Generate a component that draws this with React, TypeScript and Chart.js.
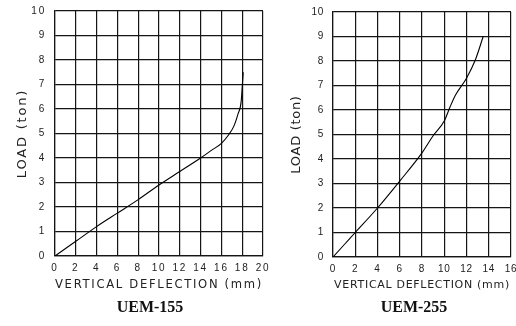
import React, { useEffect, useRef } from "react";
import { Chart, registerables } from "chart.js";

Chart.register(...registerables);

// ---- data ----
const xAxisTitle = "VERTICAL DEFLECTION (mm)";
const yAxisTitle = "LOAD (ton)";
const leftName = "UEM-155";
const rightName = "UEM-255";

const leftDeflection = [0, 2, 4, 6, 8, 10, 12, 14, 15, 16, 16.7, 17.2, 17.6, 17.9, 18.0, 18.1];
const leftLoad = [0, 0.6, 1.2, 1.75, 2.3, 2.9, 3.45, 4.0, 4.3, 4.6, 4.95, 5.3, 5.8, 6.3, 6.9, 7.5];

const rightDeflection = [0, 1, 2, 4, 6, 8, 9, 10, 10.5, 11, 12, 12.8, 13.5];
const rightLoad = [0, 0.5, 1.0, 2.0, 3.1, 4.25, 4.95, 5.55, 6.1, 6.6, 7.3, 8.05, 9.0];

const leftXMax = 20;
const rightXMax = 16;
const yMax = 10;
const xStep = 2;
const yStep = 1;

const spacingPlugin = {
  id: "spacing",
  beforeDraw(chart: any, _args: any, opts: any) {
    (chart.ctx as any).letterSpacing = opts && opts.value ? opts.value : "0px";
  },
};

type PanelProps = {
  xs: number[];
  ys: number[];
  xMax: number;
  left: number;
  width: number;
  yAxisWidth: number;
  padTop: number;
  padRight: number;
  xAxisHeight: number;
  xTitleSize: number;
  xTitlePad: number;
  yTitlePad: number;
  spacing: string;
};

function Panel(p: PanelProps) {
  const ref = useRef<HTMLCanvasElement | null>(null);
  useEffect(() => {
    if (!ref.current) return;
    const points = p.xs.map((x, i) => ({ x, y: p.ys[i] }));
    const gridColor = "#151515";
    const chart = new Chart(ref.current, {
      type: "line",
      data: {
        datasets: [
          {
            data: points,
            borderColor: "#000",
            borderWidth: 1.1,
            pointRadius: 0,
            fill: false,
            cubicInterpolationMode: "monotone",
          } as any,
        ],
      },
      plugins: [spacingPlugin as any],
      options: {
        responsive: false,
        animation: false,
        maintainAspectRatio: false,
        layout: { padding: { top: p.padTop, right: p.padRight, bottom: 0, left: 0 } },
        plugins: {
          legend: { display: false },
          tooltip: { enabled: false },
          spacing: { value: p.spacing },
        } as any,
        scales: {
          x: {
            type: "linear",
            min: 0,
            max: p.xMax,
            ticks: {
              stepSize: xStep,
              padding: 6,
              autoSkip: false,
              maxRotation: 0,
              color: "#222",
              font: { family: "Liberation Sans", size: 10 },
            },
            grid: { color: gridColor, lineWidth: 1.2, drawTicks: false },
            border: { color: gridColor, width: 1.2 },
            title: {
              display: true,
              text: xAxisTitle,
              color: "#222",
              font: { family: "DejaVu Sans", size: p.xTitleSize },
              padding: { top: 0, bottom: p.xTitlePad },
            },
            afterFit(s: any) {
              s.height = p.xAxisHeight;
              s.paddingLeft = 0;
              s.paddingRight = 0;
            },
          },
          y: {
            type: "linear",
            min: 0,
            max: yMax,
            ticks: {
              stepSize: yStep,
              padding: 9,
              color: "#222",
              font: { family: "Liberation Sans", size: 10 },
            },
            grid: { color: gridColor, lineWidth: 1.2, drawTicks: false },
            border: { color: gridColor, width: 1.2 },
            title: {
              display: true,
              text: yAxisTitle,
              color: "#222",
              font: { family: "DejaVu Sans", size: 13 },
              padding: { top: p.yTitlePad, bottom: 0 },
            },
            afterFit(s: any) {
              s.width = p.yAxisWidth;
              s.paddingTop = 0;
              s.paddingBottom = 0;
            },
          },
        },
      } as any,
    });
    return () => chart.destroy();
  }, []);
  return (
    <canvas
      ref={ref}
      width={p.width}
      height={326}
      style={{ position: "absolute", left: p.left, top: 0, width: p.width, height: 326, display: "block" }}
    />
  );
}

const titleStyle: React.CSSProperties = {
  position: "absolute",
  top: 298,
  width: 120,
  height: 18,
  lineHeight: "18px",
  textAlign: "center",
  fontFamily: "Liberation Serif",
  fontWeight: "bold",
  fontSize: 16,
  color: "#111",
};

export default function App() {
  return (
    <div
      style={{
        position: "absolute",
        left: 0,
        top: 0,
        width: 516,
        height: 326,
        background: "#fff",
        overflow: "hidden",
      }}
    >
      <Panel
        xs={leftDeflection}
        ys={leftLoad}
        xMax={leftXMax}
        left={0}
        width={272}
        yAxisWidth={55}
        padTop={11}
        padRight={9}
        xAxisHeight={70}
        xTitleSize={12.5}
        xTitlePad={34}
        yTitlePad={15}
        spacing="1.8px"
      />
      <Panel
        xs={rightDeflection}
        ys={rightLoad}
        xMax={rightXMax}
        left={270}
        width={246}
        yAxisWidth={63}
        padTop={12}
        padRight={5}
        xAxisHeight={69}
        xTitleSize={11}
        xTitlePad={34}
        yTitlePad={19}
        spacing="0.7px"
      />
      <div style={{ ...titleStyle, left: 90 }}>{leftName}</div>
      <div style={{ ...titleStyle, left: 354 }}>{rightName}</div>
    </div>
  );
}
